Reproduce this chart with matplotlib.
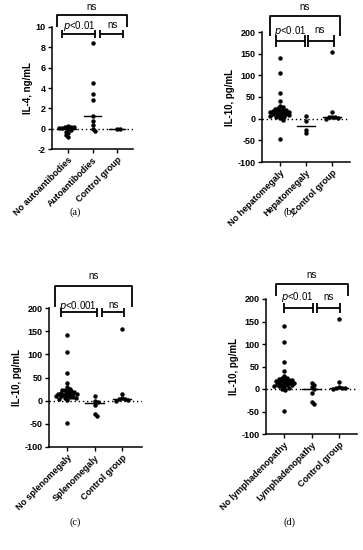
import matplotlib
matplotlib.use("Agg")
import matplotlib.pyplot as plt
import numpy as np

plt.rcParams["axes.unicode_minus"] = False

# ---------------- data ----------------
cats_a = ["No autoantibodies", "Autoantibodies", "Control group"]
cats_b = ["No hepatomegaly", "Hepatomegaly", "Control group"]
cats_c = ["No splenomegaly", "Splenomegaly", "Control group"]
cats_d = ["No lymphadenopathy", "Lymphadenopathy", "Control group"]

il4_no_auto = [0.26, 0.2, 0.2, 0.13, 0.03, 0.03, -0.07, -0.13, -0.3, -0.46, -0.62, -0.8]
il4_auto = [8.4, 4.5, 3.4, 2.8, 1.25, 0.8, 0.33, -0.07, -0.26]
il4_ctrl = [0.0, 0.0]

il10_no_hep = [141, 105, 59, 40, 30, 27, 25, 23, 21, 20, 19, 18, 17, 16, 15, 14, 13,
               12, 11, 10, 9, 8, 7, 6, 5, 3, 1, -2, -48]
il10_hep = [6, -6, -26, -33]
il10_no_spl = [141, 105, 60, 39, 29, 26, 24, 22, 21, 20, 18, 17, 16, 15, 14, 14, 13,
               12, 11, 10, 9, 8, 7, 6, 5, 4, 2, -48]
il10_spl = [9, 0, -2, -9, -29, -33]
il10_no_lym = [141, 105, 60, 40, 28, 25, 24, 22, 21, 20, 19, 18, 17, 16, 15, 14, 13,
               12, 11, 10, 9, 8, 7, 6, 5, 3, 0, -3, -48]
il10_lym = [13, 9, 5, 0, -8, -29, -33]
il10_ctrl = [155, 15, 5, 3, 3, 2, 0]

p_labels = ["<0.01", "<0.01", "<0.001", "<0.01"]
panel_tags = ["(a)", "(b)", "(c)", "(d)"]

FW, FH = 363, 550
fig = plt.figure(figsize=(FW / 100, FH / 100), dpi=100)

SANS = "Liberation Sans"


def swarm(vals, upp, ppc, d=2.9):
    """deterministic beeswarm offsets (category units)"""
    vals = np.asarray(vals, float)
    order = np.argsort(-vals)
    placed = []
    offs = np.zeros(len(vals))
    for i in order:
        ypx = vals[i] / upp
        cand = [0.0]
        for k in range(1, 60):
            cand += [k * 0.5, -k * 0.5]
        for c in cand:
            ok = True
            for (px, py) in placed:
                if (px - c) ** 2 + (py - ypx) ** 2 < d ** 2:
                    ok = False
                    break
            if ok:
                offs[i] = c
                placed.append((c, ypx))
                break
    return offs / ppc


def make_panel(box, cats, groups, ylim, yticks, ylabel, xlim, br, tag, tagpos):
    l, r, t, b = box
    ax = fig.add_axes([l / FW, 1 - b / FH, (r - l) / FW, (b - t) / FH])
    ax.set_xlim(*xlim)
    ax.set_ylim(*ylim)
    upp = (ylim[1] - ylim[0]) / (b - t)
    ppc = (r - l) / (xlim[1] - xlim[0])
    ax.axhline(0, color="black", lw=1.0, ls=(0, (1, 2)), zorder=1)
    for i, g in enumerate(groups):
        offs = swarm(g, upp, ppc)
        ax.plot(i + offs, g, "o", color="black", ms=3.2, mew=0, zorder=3, clip_on=False)
        m = np.median(g)
        ax.plot([i - 0.33, i + 0.33], [m, m], color="black", lw=1.0, zorder=4)
    for s in ["top", "right"]:
        ax.spines[s].set_visible(False)
    for s in ["left", "bottom"]:
        ax.spines[s].set_linewidth(1.1)
    ax.set_yticks(yticks)
    ax.set_xticks(range(3))
    ax.set_xticklabels(cats, rotation=45, ha="right", rotation_mode="anchor",
                       fontsize=6.5, fontweight="bold", family=SANS)
    for lab in ax.get_yticklabels():
        lab.set_fontsize(6.5)
        lab.set_fontweight("bold")
        lab.set_family(SANS)
    ax.tick_params(axis="both", direction="out", length=3, width=1.0, pad=1.5)
    ax.set_ylabel(ylabel, fontsize=7, fontweight="bold", family=SANS, labelpad=2)

    # brackets
    (tx1, tx2, ttop, tleg, tnsy), (cap, iy), (b1x1, b1x2), (b2x1, b2x2), (ptx, pty), (nsx, nsy), plab = br
    kw = dict(color="black", lw=1.3, clip_on=False, solid_capstyle="butt")
    ax.plot([tx1, tx1, tx2, tx2], [tleg, ttop, ttop, tleg], **kw)
    ax.text((tx1 + tx2) / 2, tnsy, "ns", ha="center", va="center", fontsize=7, family=SANS)
    for (x1, x2) in [(b1x1, b1x2), (b2x1, b2x2)]:
        ax.plot([x1, x2], [iy, iy], **kw)
        ax.plot([x1, x1], [iy - cap, iy + cap], **kw)
        ax.plot([x2, x2], [iy - cap, iy + cap], **kw)
    ax.text(ptx, pty, r"$\it{p}$" + plab, ha="center", va="center", fontsize=7, family=SANS)
    ax.text(nsx, nsy, "ns", ha="center", va="center", fontsize=7, family=SANS)
    fig.text(tagpos[0] / FW, 1 - tagpos[1] / FH, tag, ha="center", va="center",
             fontsize=7.5, family="Liberation Serif")
    return ax


# panel (a)
make_panel((52, 133, 27, 149), cats_a, [il4_no_auto, il4_auto, il4_ctrl],
           (-2, 10), np.arange(-2, 11, 2), "IL-4, ng/mL", (-0.653, 2.653),
           ((-0.45, 2.41, 11.18, 10.0, 11.97), (0.37, 9.31), (-0.24, 1.12), (1.3, 2.24),
            (0.45, 10.1), (1.80, 10.2), p_labels[0]),
           panel_tags[0], (75, 212))

# panel (b)
make_panel((262, 350, 32, 162), cats_b, [il10_no_hep, il10_hep, il10_ctrl],
           (-100, 200), np.arange(-100, 201, 50), "IL-10, pg/mL", (-0.69, 2.69),
           ((-0.39, 2.29, 237.6, 191.5, 257), (13.5, 179.2), (-0.14, 0.97), (1.07, 2.06),
            (0.39, 202), (1.54, 204.6), p_labels[1]),
           panel_tags[1], (290, 212))

# panel (c)
make_panel((49, 142, 308, 447), cats_c, [il10_no_spl, il10_spl, il10_ctrl],
           (-100, 200), np.arange(-100, 201, 50), "IL-10, pg/mL", (-0.655, 2.727),
           ((-0.44, 2.35, 248.1, 202.8, 269.7), (9.1, 190.7), (-0.22, 1.08), (1.26, 2.07),
            (0.41, 205), (1.68, 206.5), p_labels[2]),
           panel_tags[2], (75, 522))

# panel (d)
make_panel((266, 357, 299, 434), cats_d, [il10_no_lym, il10_lym, il10_ctrl],
           (-100, 200), np.arange(-100, 201, 50), "IL-10, pg/mL", (-0.655, 2.655),
           ((-0.29, 2.32, 232.7, 206.7, 253.3), (11, 180.7), (-0.01, 1.06), (1.2, 2.05),
            (0.47, 203.8), (1.625, 204.4), p_labels[3]),
           panel_tags[3], (289, 522))

fig.savefig("out.png", dpi=100)
